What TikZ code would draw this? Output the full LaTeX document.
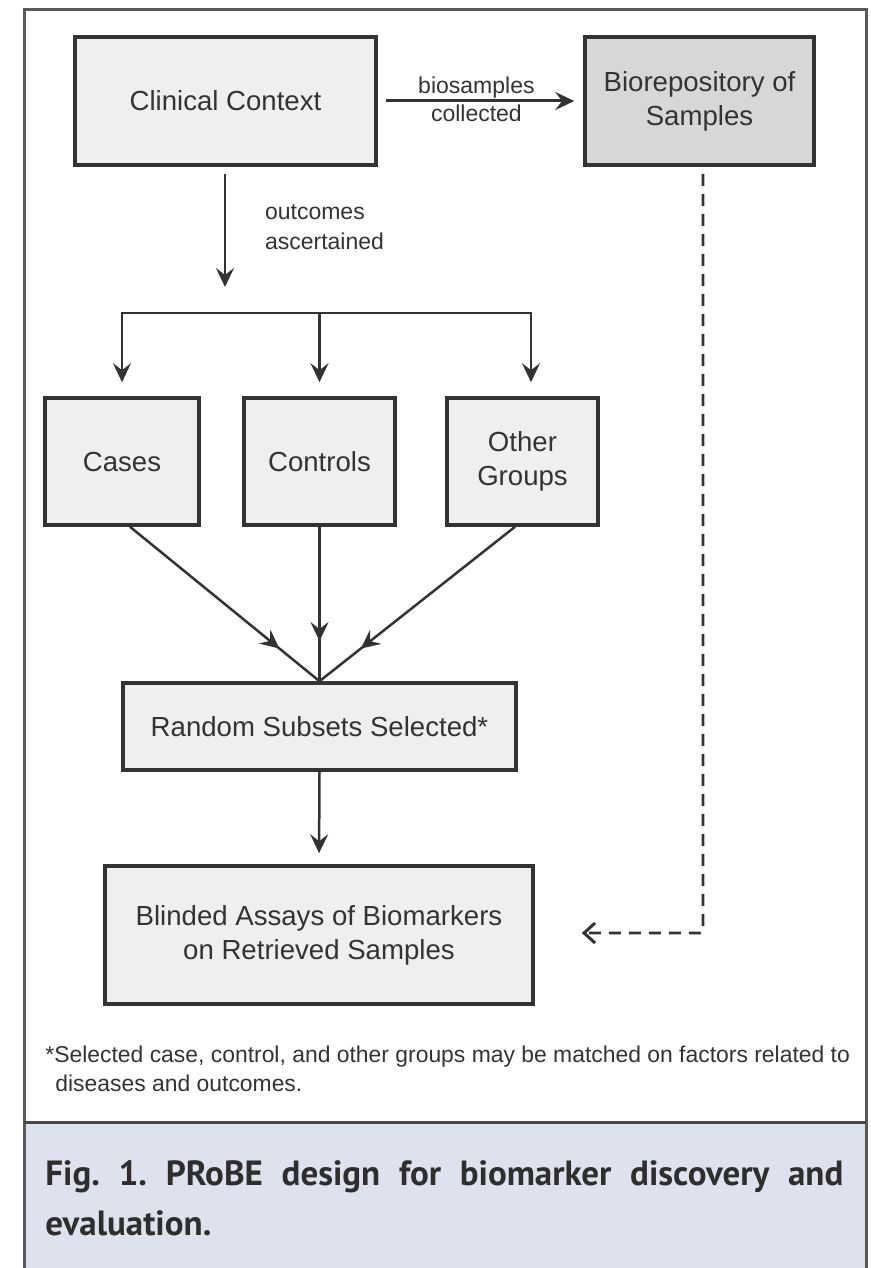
\documentclass[tikz,border=0pt]{standalone}
\usepackage{fontspec}
\setmainfont{Liberation Sans}
\newfontfamily\capfont{PT Sans}
\usetikzlibrary{arrows.meta,decorations.markings}

\definecolor{ink}{HTML}{333333}
\definecolor{frame}{HTML}{5A5A5A}
\definecolor{boxfill}{HTML}{EFEFEF}
\definecolor{repofill}{HTML}{D7D7D7}
\definecolor{capfill}{HTML}{DDE2EE}

\tikzset{
  stagebox/.style={draw=ink, line width=1.8pt, fill=boxfill, inner sep=0pt,
    align=center, text=ink, font=\fontsize{13.8}{17}\selectfont},
  flow/.style={draw=ink, line width=1.25pt,
    -{Stealth[length=9.5pt,width=9pt,inset=3.5pt]}},
  midflow/.style={draw=ink, line width=1.25pt, postaction={decorate},
    decoration={markings,
      mark=at position #1 with {\arrow{Stealth[length=9.5pt,width=9pt,inset=3.5pt]}}}},
  edgelabel/.style={text=ink, font=\fontsize{11.5}{15}\selectfont},
}

\begin{document}
\begin{tikzpicture}[x=0.5pt,y=-0.5pt]
  \useasboundingbox (0,0) rectangle (871,1268);

  % outer frame and caption band
  \fill[capfill] (24,1122) rectangle (866,1268);
  \draw[frame, line width=1.5pt] (24,1268) -- (24,10) -- (866,10) -- (866,1268);
  \draw[frame!80!black, line width=1.5pt] (24,1122) -- (866,1122);

  % boxes
  \node[stagebox, minimum width=150.5pt, minimum height=64pt] (clin) at (225.5,101) {Clinical Context};
  \node[stagebox, fill=repofill, minimum width=114.5pt, minimum height=64pt] (bio) at (699.5,101) {Biorepository of\\Samples};
  \node[stagebox, minimum width=77pt, minimum height=63.5pt] (cases) at (122,461.5) {Cases};
  \node[stagebox, minimum width=75.5pt, minimum height=63.5pt] (ctrl) at (319.5,461.5) {Controls};
  \node[stagebox, minimum width=75.5pt, minimum height=63.5pt] (other) at (522.5,461.5) {Other\\Groups};
  \node[stagebox, minimum width=196.5pt, minimum height=43.5pt] (rand) at (319.5,726.5) {Random Subsets Selected*};
  \node[stagebox, minimum width=214pt, minimum height=69pt] (blind) at (319,935) {Blinded Assays of Biomarkers\\on Retrieved Samples};

  % clinical context to biorepository
  \draw[flow, line width=1.5pt, shorten <=4pt, shorten >=4.5pt] (clin.east) --
    node[edgelabel, above, inner sep=0.5pt, pos=0.48] {biosamples}
    node[edgelabel, below, inner sep=1pt, pos=0.48] {collected} (bio.west);

  % outcomes ascertained
  \coordinate (oc) at (225,287);
  \draw[flow, shorten <=3.5pt] (clin.south -| oc) -- (oc);
  \node[edgelabel, anchor=west, align=left] (oclab) at (258,227) {outcomes\\ascertained};

  % split bar to the three groups
  \coordinate (bm) at (319.5,313);
  \draw[flow, shorten >=7pt] (bm) -| (cases.north);
  \draw[flow, shorten >=7pt] (bm) -- (ctrl.north);
  \draw[flow, shorten >=7pt] (bm) -| ([xshift=4.25pt]other.north);

  % groups converge on the random subsets
  \draw[midflow=0.79] ([xshift=4pt]cases.south) -- (rand.north);
  \draw[midflow=0.74] (ctrl.south) -- (rand.north);
  \draw[midflow=0.79] ([xshift=-3.75pt]other.south) -- (rand.north);

  % subsets to assays
  \draw[flow, shorten >=5.5pt] (rand.south) -- (blind.north);

  % samples retrieved from the biorepository
  \draw[draw=ink, line width=1.4pt, dash pattern=on 6pt off 4pt, rounded corners=1.5pt,
    shorten <=3.5pt, shorten >=23.5pt,
    -{Straight Barb[length=5.5pt,width=10pt,line width=1.5pt]}]
    ([xshift=1.75pt]bio.south) |- ([yshift=1pt]blind.east);

  % footnote
  \node[anchor=base west, inner sep=0pt, text=ink, font=\fontsize{11.45}{14.5}\selectfont] (fn1) at (45,1062)
    {*Selected case, control, and other groups may be matched on factors related to};
  \node[anchor=base west, inner sep=0pt, text=ink, font=\fontsize{11.45}{14.5}\selectfont] (fn2) at (55,1091)
    {diseases and outcomes.};

  % caption
  \node[anchor=base west, inner sep=0pt, text=ink!90!black, font=\capfont\bfseries\fontsize{17.5}{25}\selectfont] (cap1) at (45,1185)
    {\frenchspacing\makebox[399pt][s]{Fig. 1. PRoBE design for biomarker discovery and}};
  \node[anchor=base west, inner sep=0pt, text=ink!90!black, font=\capfont\bfseries\fontsize{17.5}{25}\selectfont] (cap2) at (45,1235)
    {evaluation.};
\end{tikzpicture}
\end{document}
